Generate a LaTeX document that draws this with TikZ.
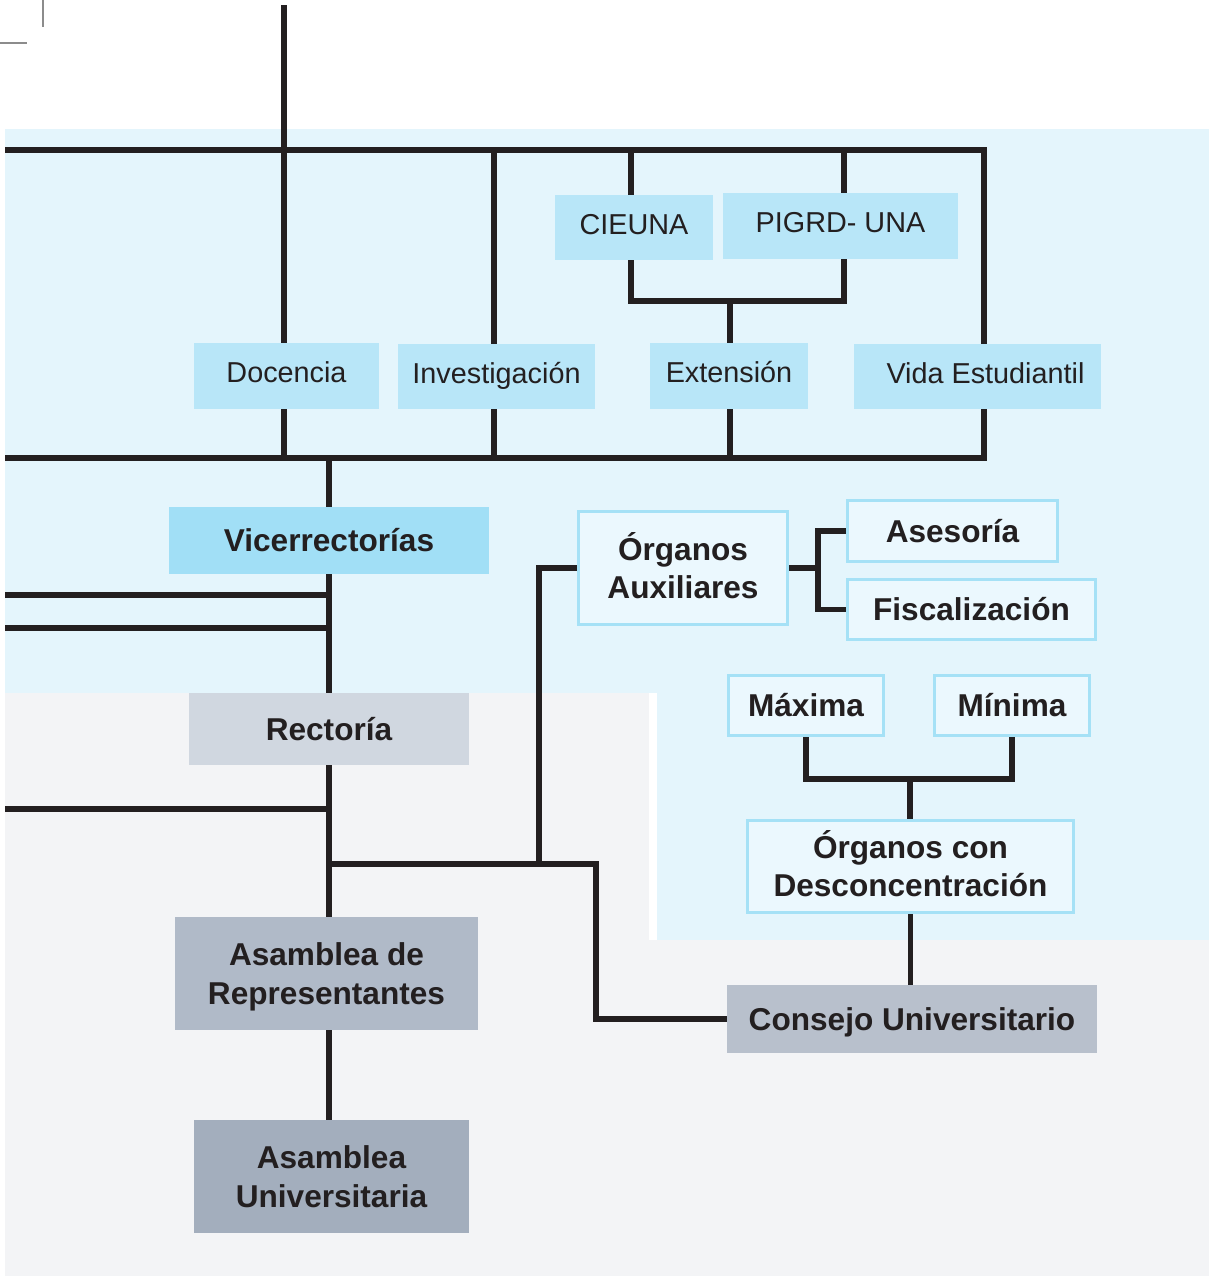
\documentclass[tikz,border=0pt]{standalone}
\usepackage{fontspec}
\setmainfont{Liberation Sans}
\pgfdeclarelayer{bgzero}
\pgfdeclarelayer{bgone}
\pgfsetlayers{bgzero,bgone,main}
\newcommand\myRS{\rule[-7.2pt]{0pt}{21.2pt}}
\newcommand\myBS{\rule[-3.7pt]{0pt}{18.7pt}}
\definecolor{ink}{HTML}{231F20}
\definecolor{bgblue}{HTML}{E4F5FC}
\definecolor{bggray}{HTML}{F3F4F6}
\definecolor{boxlt}{HTML}{B8E6F8}
\definecolor{boxvice}{HTML}{A1DFF6}
\definecolor{outfill}{HTML}{EBF8FE}
\definecolor{outline}{HTML}{A5E1F6}
\definecolor{grayA}{HTML}{D0D7E0}
\definecolor{grayB}{HTML}{B0BAC8}
\definecolor{grayC}{HTML}{A3AEBD}
\definecolor{grayD}{HTML}{B8C0CC}
\tikzset{
  conn/.style={draw=ink, line width=2.6pt, line join=miter},
  base/.style={inner sep=0pt, align=center, text=ink},
  regbox/.style={base, fill=boxlt, font=\fontsize{14.4}{18}\selectfont},
  vicebox/.style={base, fill=boxvice, font=\fontsize{15.8}{19}\selectfont\bfseries},
  outbox/.style={base, fill=outfill, draw=outline, line width=1.5pt, font=\fontsize{15.8}{19}\selectfont\bfseries},
  graybox/.style={base, font=\fontsize{15.8}{19.5}\selectfont\bfseries},
  cropmark/.style={draw=black!45, line width=1pt}
}
\begin{document}
\begin{tikzpicture}[x=0.5pt, y=-0.5pt]
\useasboundingbox (0,0) rectangle (1209,1276);
\begin{pgfonlayer}{bgzero}
\fill[bgblue] (5,129) rectangle (1209,693);
\fill[bgblue] (657,693) rectangle (1209,940);
\fill[bggray] (5,693) rectangle (649,940);
\fill[bggray] (5,940) rectangle (1209,1276);
\draw[cropmark] (43,0) -- (43,27);
\draw[cropmark] (0,43) -- (27,43);
\end{pgfonlayer}

% nodes
\node[regbox, minimum width=79pt, minimum height=32.5pt] (cieuna) at (634,227.5) {\myRS CIEUNA};
\node[regbox, minimum width=117.5pt, minimum height=33pt] (pigrd) at (840.5,226) {\myRS PIGRD- UNA};
\node[regbox, minimum width=92.5pt, minimum height=33pt] (doc) at (286.5,376) {\myRS Docencia};
\node[regbox, minimum width=98.5pt, minimum height=32.5pt] (inv) at (496.5,376.5) {\myRS Investigación};
\node[regbox, minimum width=79pt, minimum height=33pt] (ext) at (729,376) {\myRS Extensión};
\node[regbox, minimum width=123.5pt, minimum height=32.5pt] (vida) at (977.5,376.5) {\myRS\hspace*{8pt}Vida Estudiantil};
\node[vicebox, minimum width=160pt, minimum height=33.5pt] (vice) at (329,540.5) {\myBS Vicerrectorías};
\node[outbox, minimum width=104.5pt, minimum height=56.5pt] (aux) at (683,568) {\myBS Órganos\\\myBS Auxiliares};
\node[outbox, minimum width=105pt, minimum height=30.5pt] (ases) at (952.5,531) {\myBS Asesoría};
\node[outbox, minimum width=124pt, minimum height=30pt] (fisc) at (971.5,609.5) {\myBS Fiscalización};
\node[outbox, minimum width=77.5pt, minimum height=30pt] (max) at (806,705.5) {\myBS Máxima};
\node[outbox, minimum width=77.5pt, minimum height=30pt] (min) at (1012,705.5) {\myBS Mínima};
\node[outbox, minimum width=163pt, minimum height=46pt] (desc) at (910.5,866.5) {\myBS Órganos con\\\myBS Desconcentración};
\node[graybox, fill=grayA, minimum width=140pt, minimum height=36pt] (rect) at (329,729) {\myBS Rectoría};
\node[graybox, fill=grayB, minimum width=151.5pt, minimum height=56.5pt] (asrep) at (326.5,973.5) {\myBS Asamblea de\\\myBS Representantes};
\node[graybox, fill=grayC, minimum width=137.5pt, minimum height=56.5pt] (asuni) at (331.5,1176.5) {\myBS Asamblea\\\myBS Universitaria};
\node[graybox, fill=grayD, minimum width=185pt, minimum height=34pt] (cons) at (912,1019) {\myBS Consejo Universitario};

% coordinates
\coordinate (top) at (284,5);
\coordinate (xd) at (284,0);
\coordinate (xi) at (494,0);
\coordinate (xc) at (631,0);
\coordinate (xp) at (844,0);
\coordinate (xe) at (730,0);
\coordinate (xm) at (329,0);
\coordinate (xa) at (818,0);
\coordinate (tl) at (5,150);
\coordinate (tr) at (984,150);
\coordinate (br) at (984,458);
\coordinate (bl) at (5,458);
\coordinate (jce) at (730,301);
\coordinate (l1) at (5,595);
\coordinate (l2) at (5,628);
\coordinate (l3) at (5,809);
\coordinate (jb) at (329,864);
\coordinate (ja) at (539,864);
\coordinate (jc) at (596,864);
\coordinate (jmm) at (910,779);

% connectors (behind nodes)
\begin{pgfonlayer}{bgone}
\draw[conn] (top) -- (xd |- doc.north);
\draw[conn] (tl) -- (tr) -- (br) -- (bl);
\draw[conn] (xd |- doc.south) -- (xd |- bl);
\draw[conn] (xi |- tl) -- (xi |- inv.north);
\draw[conn] (xi |- inv.south) -- (xi |- bl);
\draw[conn] (xc |- tl) -- (xc |- cieuna.north);
\draw[conn] (xp |- tl) -- (xp |- pigrd.north);
\draw[conn] (xc |- cieuna.south) |- (xp |- jce) -- (xp |- pigrd.south);
\draw[conn] (jce) -- (xe |- ext.north);
\draw[conn] (xe |- ext.south) -- (xe |- bl);
\draw[conn] (xm |- bl) -- (vice.north);
\draw[conn] (vice.south) -- (rect.north);
\draw[conn] (rect.south) -- (xm |- asrep.north);
\draw[conn] (xm |- asrep.south) -- (xm |- asuni.north);
\draw[conn] (l1) -- (xm |- l1);
\draw[conn] (l2) -- (xm |- l2);
\draw[conn] (l3) -- (xm |- l3);
\draw[conn] (jb) -- (jc) |- (cons.west);
\draw[conn] (ja) |- (aux.west);
\draw[conn] (aux.east) -- (aux.east -| xa);
\draw[conn] (ases.west) -| (xa |- fisc.west) -- (fisc.west);
\draw[conn] (max.south) |- (min.south |- jmm) -- (min.south);
\draw[conn] (jmm) -- (jmm |- desc.north);
\draw[conn] (desc.south) -- (desc.south |- cons.north);
\end{pgfonlayer}
\end{tikzpicture}
\end{document}
